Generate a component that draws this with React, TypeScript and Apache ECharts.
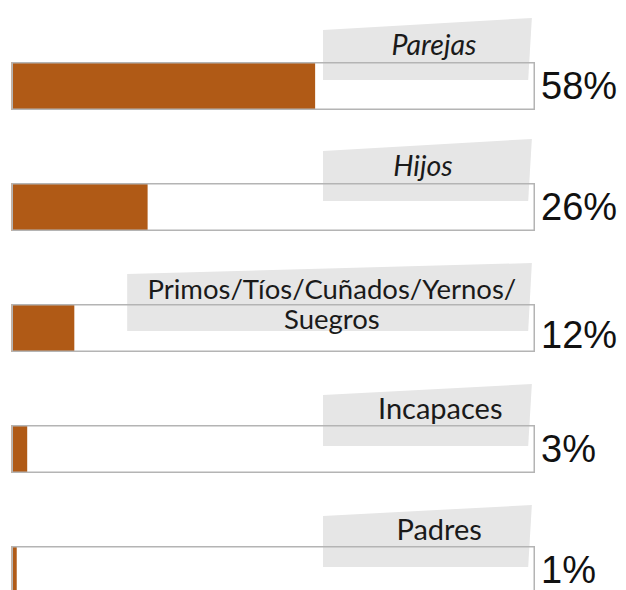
import React, { useEffect, useRef } from "react";
import * as echarts from "echarts";

// ---- data ----
const categories = ["Parejas", "Hijos", "Primos/Tíos/Cuñados/Yernos/\nSuegros", "Incapaces", "Padres"];
const values = [58, 26, 12, 3, 1];
const axisMax = 100;

// ---- label styling (positions in axis-value space, offsets in px) ----
const labelStyles = [
  { italic: true, size: 28.5, boxLeft: 59.5, textX: 80.7, topL: -32, topR: -44, bottom: 18, textDy: -18, pctDy: 0 },
  { italic: true, size: 28.5, boxLeft: 59.5, textX: 78.6, topL: -32, topR: -44, bottom: 18, textDy: -18, pctDy: 0 },
  { italic: false, size: 27.5, boxLeft: 22.1, textX: 61.2, topL: -30, topR: -41, bottom: 27, textDy: -1, pctDy: 7 },
  { italic: false, size: 29, boxLeft: 59.5, textX: 81.9, topL: -30, topR: -41, bottom: 21, textDy: -18, pctDy: 0 },
  { italic: false, size: 29, boxLeft: 59.5, textX: 81.7, topL: -30, topR: -41, bottom: 21, textDy: -18, pctDy: 0 },
];

const BAR_W = 48;
const LINE_GAP = 30;
const ORANGE = "#b05a16";
const FRAME = "#b4b4b4";
const GRAY = "#e6e6e6";

export default function App() {
  const ref = useRef<HTMLDivElement>(null);
  useEffect(() => {
    const chart = echarts.init(ref.current!, null, { renderer: "svg" });
    const idxData = categories.map((_, i) => [0, i]);
    chart.setOption({
      animation: false,
      grid: { left: 11.5, width: 523.5, top: 25.5, bottom: 0.5, containLabel: false },
      xAxis: { type: "value", min: 0, max: axisMax, show: false },
      yAxis: { type: "category", data: categories, inverse: true, show: false },
      series: [
        {
          type: "custom",
          z: 1,
          data: idxData,
          encode: { x: 0, y: 1 },
          renderItem: (params: any, api: any) => {
            const i = params.dataIndex;
            const st = labelStyles[i];
            const c = api.coord([0, i]);
            const T = c[1] - BAR_W / 2;
            const xL = api.coord([st.boxLeft, i])[0];
            const xRT = api.coord([99.4, i])[0];
            const xRB = api.coord([98.7, i])[0];
            return {
              type: "polygon",
              shape: {
                points: [
                  [xL, T + st.topL],
                  [xRT, T + st.topR],
                  [xRB, T + st.bottom],
                  [xL, T + st.bottom],
                ],
              },
              style: { fill: GRAY },
            };
          },
        },
        {
          type: "bar",
          z: 2,
          barWidth: BAR_W,
          barGap: "-100%",
          data: values,
          itemStyle: { color: ORANGE },
        },
        {
          type: "bar",
          z: 3,
          barWidth: BAR_W,
          barGap: "-100%",
          data: values.map((_, i) => ({
            value: axisMax,
            label: { offset: [0, labelStyles[i].pctDy] },
          })),
          itemStyle: { color: "rgba(0,0,0,0)", borderColor: FRAME, borderWidth: 1.5 },
          label: {
            show: true,
            position: "right",
            distance: 6,
            formatter: (p: any) => `${values[p.dataIndex]}%`,
            fontFamily: "Liberation Sans",
            fontSize: 38,
            color: "#111",
          },
        },
        {
          type: "custom",
          z: 5,
          data: idxData,
          encode: { x: 0, y: 1 },
          renderItem: (params: any, api: any) => {
            const i = params.dataIndex;
            const st = labelStyles[i];
            const c = api.coord([st.textX, i]);
            const T = c[1] - BAR_W / 2;
            const lines = categories[i].split("\n");
            const y0 = T + st.textDy - ((lines.length - 1) * LINE_GAP) / 2;
            return {
              type: "group",
              children: lines.map((line, k) => ({
                type: "text",
                x: c[0],
                y: y0 + k * LINE_GAP,
                style: {
                  text: line,
                  fontFamily: "Lato",
                  fontSize: st.size,
                  fontStyle: st.italic ? "italic" : "normal",
                  fill: "#1a1a1a",
                  align: "center",
                  verticalAlign: "middle",
                },
              })),
            };
          },
        },
      ],
    });
    return () => chart.dispose();
  }, []);
  return (
    <div
      ref={ref}
      style={{ position: "fixed", left: 0, top: 0, width: 626, height: 631, background: "#fff" }}
    />
  );
}
